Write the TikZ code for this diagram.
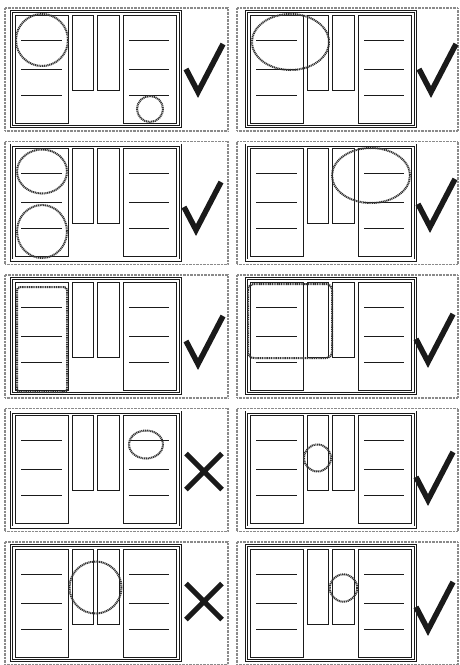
\documentclass[tikz,border=0pt]{standalone}
\usepackage{xcolor}
\usepackage{tikz}
\definecolor{ink}{HTML}{1A1A1A}
\definecolor{haze}{HTML}{8A8A8A}
\definecolor{grain}{HTML}{333333}
\tikzset{
  layout/.pic={
    \draw[ink,line width=0.7pt,double,double distance=1.6pt] (11.5,11.5) rectangle (180.5,126.5);
    \draw[ink,line width=1pt] (15,15) rectangle (68,123);
    \draw[ink,line width=1pt] (72,15) rectangle (93,90);
    \draw[ink,line width=1pt] (97,15) rectangle (119,90);
    \draw[ink,line width=1pt] (123,15) rectangle (176,123);
    \foreach \y in {40,69,95} {
      \draw[ink,line width=1pt] (21,\y) -- (62,\y);
      \draw[ink,line width=1pt] (129,\y) -- (169,\y);
    }
  },
  tick/.pic={\draw[ink,line width=5.5pt] (-12,-23) -- (0,0) -- (25,-48);},
  cross/.pic={\draw[ink,line width=5pt] (-18,-18) -- (18,18) (-18,18) -- (18,-18);},
}

\begin{document}
\begin{tikzpicture}[x=1pt,y=-1pt,
  outline/.style={draw=haze,line width=1.3pt,dash pattern=on 0.7pt off 0.7pt},
  ring/.style={draw=grain,line width=2pt,dash pattern=on 1.1pt off 0.7pt}]
\useasboundingbox[fill=white] (0,0) rectangle (460,665);
\foreach \row in {0,...,4} {
  \draw[outline] (5,8+133.5*\row) rectangle (228,131+133.5*\row);
  \draw[outline] (237,8+133.5*\row) rectangle (458,131+133.5*\row);
  \pic at (0,133.5*\row) {layout};
  \pic at (235,133.5*\row) {layout};
}
% row 1
\draw[ring] (42,40) circle[radius=26];
\draw[ring] (150,109) circle[radius=13];
\pic at (198,92) {tick};
\draw[ring] (290.5,42) ellipse[x radius=38.5,y radius=28];
\pic at (431,92) {tick};
% row 2
\draw[ring] (42,171.5) ellipse[x radius=25,y radius=22];
\draw[ring] (42,231.5) ellipse[x radius=25,y radius=26.5];
\pic at (196,230) {tick};
\draw[ring] (371,175.5) ellipse[x radius=39,y radius=27.5];
\pic at (430,227) {tick};
% row 3
\draw[ring,rounded corners=3pt] (17,287) rectangle (67,392);
\pic at (198,364) {tick};
\draw[ring,rounded corners=6pt] (248,284) rectangle (332,358);
\pic at (428,362) {tick};
% row 4
\draw[ring] (146,444.5) ellipse[x radius=17,y radius=14];
\pic at (204,471.5) {cross};
\draw[ring] (317.5,458) circle[radius=13.5];
\pic at (428,500) {tick};
% row 5
\draw[ring] (95.5,587.5) circle[radius=26];
\pic at (204,601.5) {cross};
\draw[ring] (343.5,588) circle[radius=13.7];
\pic at (428,630) {tick};
\end{tikzpicture}
\end{document}
